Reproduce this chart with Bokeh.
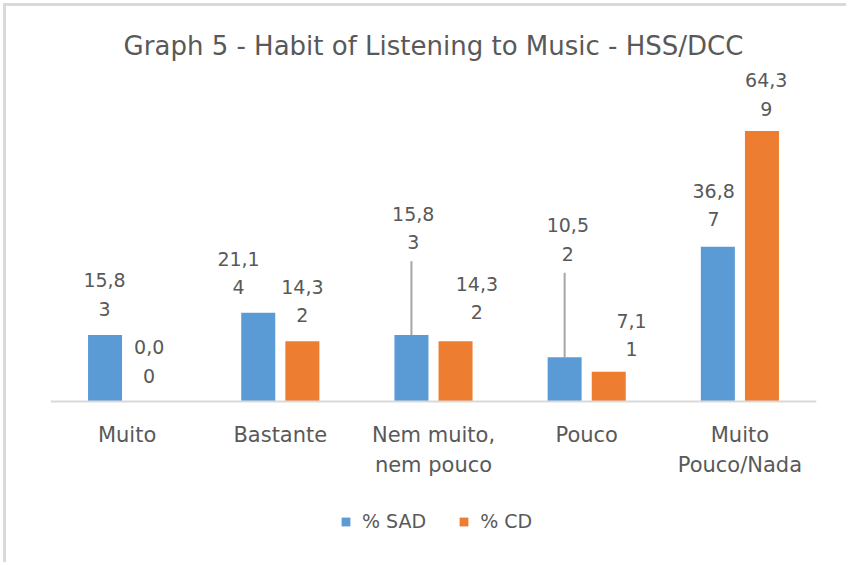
from bokeh.plotting import figure
from bokeh.models import ColumnDataSource, FactorRange, Range1d, Legend, LegendItem, Span
from bokeh.transform import dodge
from bokeh.core.properties import value
from bokeh.embed import file_html
from bokeh.resources import INLINE

# ---- data ----
categories = ["Muito", "Bastante", "Nem muito, nem pouco", "Pouco", "Muito Pouco/Nada"]
tick_labels = ["Muito", "Bastante", "Nem muito,\nnem pouco", "Pouco", "Muito\nPouco/Nada"]
sad = [15.83, 21.14, 15.83, 10.52, 36.87]
cd = [0.00, 14.32, 14.32, 7.11, 64.39]
series_names = ["% SAD", "% CD"]
title_text = "Graph 5 - Habit of Listening to Music - HSS/DCC"

# ---- label placement (screen px, relative to bar top) ----
sad_dx = [-0.5, -19.7, 1.8, 3.2, -4.2]
sad_d = [26.2, 25.5, 92.8, 103.5, 27.4]
cd_dx = [0.0, 0.0, 21.3, 22.8, 4.3]
cd_d = [25.7, 25.9, 29.2, 22.3, 22.2]
sad_leader = [False, False, True, True, False]
LINE_GAP = 28.5
LEADER_GAP = 19.0
CAT_OFF1, CAT_OFF2 = 34, 64

# ---- layout (canvas starts 6px in, after a 3px margin and a 3px border) ----
W, H = 843, 559
BL, BR, BT, BB = 44, 33, 54, 0
Y0, Y1 = -39.05, 81.19
frame_h = H - BT - BB
ppu = frame_h / (Y1 - Y0)

BLUE = "#5B9BD5"
ORANGE = "#ED7D31"
TXT = "#595959"
FONT = "DejaVu Sans"
BW = 0.222
OFF = 0.144

p = figure(width=W, height=H, x_range=FactorRange(*categories), y_range=Range1d(Y0, Y1),
           output_backend="svg", toolbar_location=None, y_axis_location=None,
           x_axis_location=None,
           min_border_left=BL, min_border_right=BR, min_border_top=BT, min_border_bottom=BB,
           title=title_text)
p.outline_line_color = None
p.xgrid.visible = False
p.ygrid.visible = False
p.background_fill_color = "white"
p.border_fill_color = "white"
p.styles = {"border-top": "3px solid #D9D9D9", "border-left": "3px solid #D9D9D9",
            "border-right": "none", "border-bottom": "none",
            "margin": "3px 0 0 3px"}

p.title.align = "center"
p.title.text_font = FONT
p.title.text_font_size = "26px"
p.title.text_font_style = "normal"
p.title.text_color = TXT
p.title.standoff = 0

def split(v):
    s = f"{v:.2f}".replace(".", ",")
    return s[:-1], s[-1]

def make_src(vals, dx, d):
    l1 = [split(v)[0] for v in vals]
    l2 = [split(v)[1] for v in vals]
    return ColumnDataSource(dict(x=categories, y=vals, l1=l1, l2=l2, dx=dx,
                                 yo1=[-(a + LINE_GAP) for a in d], yo2=[-a for a in d]))

src_sad = make_src(sad, sad_dx, sad_d)
src_cd = make_src(cd, cd_dx, cd_d)

r_sad = p.vbar(x=dodge("x", -OFF, range=p.x_range), top="y", width=BW, source=src_sad,
               fill_color=BLUE, line_color=None)
r_cd = p.vbar(x=dodge("x", OFF, range=p.x_range), top="y", width=BW, source=src_cd,
              fill_color=ORANGE, line_color=None)

# category axis baseline
p.add_layout(Span(location=0, dimension="width", line_color="#D9D9D9", line_width=2))

# category labels (wrapped as in the original)
lines = [t.split("\n") + [""] for t in tick_labels]
src_cat = ColumnDataSource(dict(x=categories, y=[0] * len(categories),
                                t1=[l[0] for l in lines], t2=[l[1] for l in lines]))
for col, off in (("t1", CAT_OFF1), ("t2", CAT_OFF2)):
    p.text(x="x", y="y", text=col, y_offset=off, source=src_cat, text_align="center",
           text_baseline="middle", text_font=value(FONT), text_font_size="21px",
           text_color=TXT)

# leader lines
lx = [c for c, f in zip(categories, sad_leader) if f]
ly0 = [v for v, f in zip(sad, sad_leader) if f]
ly1 = [v + (dd - LEADER_GAP) / ppu for v, dd, f in zip(sad, sad_d, sad_leader) if f]
src_lead = ColumnDataSource(dict(x=lx, y0=ly0, y1=ly1))
p.segment(x0=dodge("x", -OFF, range=p.x_range), y0="y0", x1=dodge("x", -OFF, range=p.x_range),
          y1="y1", source=src_lead, line_color="#A6A6A6", line_width=2)

# data labels
for src, off in ((src_sad, -OFF), (src_cd, OFF)):
    for col, yo in (("l1", "yo1"), ("l2", "yo2")):
        p.text(x=dodge("x", off, range=p.x_range), y="y", text=col, x_offset="dx", y_offset=yo,
               source=src, text_align="center", text_baseline="middle",
               text_font=value(FONT), text_font_size="19px", text_color=TXT)

legend = Legend(items=[LegendItem(label=series_names[0], renderers=[r_sad]),
                       LegendItem(label=series_names[1], renderers=[r_cd])],
                orientation="horizontal", location=(290, 33),
                glyph_width=11, glyph_height=11, label_standoff=11, spacing=32,
                padding=0, margin=0, border_line_color=None, background_fill_alpha=0,
                label_text_font=FONT, label_text_font_size="19px", label_text_color=TXT)
p.add_layout(legend, "center")

open("out.html", "w").write(file_html(p, INLINE))
